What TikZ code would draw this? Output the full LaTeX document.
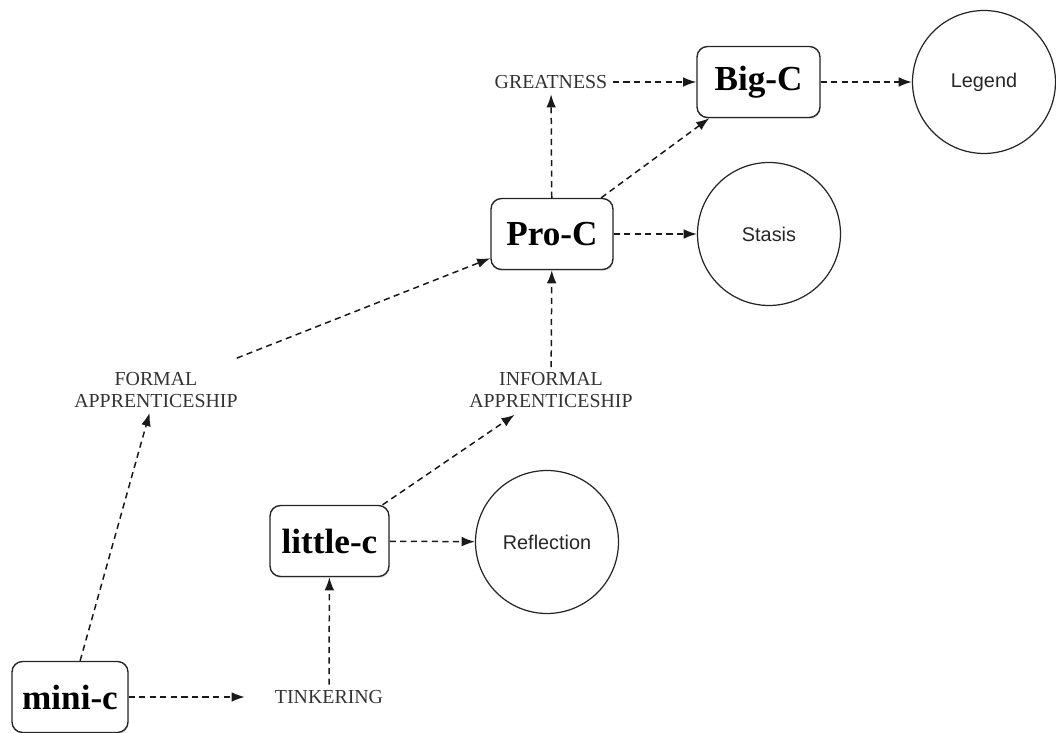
\documentclass[tikz,border=0pt]{standalone}
\usepackage{fontspec}
\setmainfont{Liberation Serif}
\newfontfamily\circfont{Liberation Sans}
\usetikzlibrary{arrows.meta,shadows}
\begin{document}
\begin{tikzpicture}[x=0.02cm,y=-0.02cm,
  level/.style={draw=black!85, line width=0.8pt, rounded corners=6pt, fill=white,
    minimum height=1.42cm, inner sep=0pt,
    font=\fontsize{20}{24}\selectfont\bfseries,
    drop shadow={opacity=0.2, shadow xshift=0.4pt, shadow yshift=-1pt}},
  route/.style={align=center, inner sep=3pt, text=black!80,
    font=\fontsize{11.3}{12}\selectfont},
  outcome/.style={circle, draw=black!85, line width=0.7pt, minimum size=2.86cm,
    inner sep=0pt, text=black!85, font=\circfont\fontsize{11.3}{13}\selectfont},
  flow/.style={draw=black!90, line width=0.85pt, dash pattern=on 3.5pt off 2.5pt,
    -{Latex[length=7.5pt,width=5.5pt]}}
]
\useasboundingbox (0,0) rectangle (1056,733);

% creativity levels
\node[level, minimum width=2.32cm] (mini)   at (70,697)    {mini-c};
\node[level, minimum width=2.38cm] (little) at (329.5,541) {little-c};
\node[level, minimum width=2.44cm] (pro)    at (552,234)   {Pro-C};
\node[level, minimum width=2.46cm] (big)    at (758.5,82)  {Big-C};

% end states
\node[outcome] (refl)   at (547,542) {Reflection};
\node[outcome] (stasis) at (769,234) {Stasis};
\node[outcome] (legend) at (984,82)  {Legend};

% transitions
\node[route] (tinker)   at (329,697) {TINKERING};
\node[route] (formal)   at (156,390) {FORMAL\\APPRENTICESHIP};
\node[route] (informal) at (551,390) {INFORMAL\\APPRENTICESHIP};
\node[route] (great)    at (551,82)  {GREATNESS};

% connectors
\draw[flow, shorten >=14pt] (mini) -- (tinker);
\draw[flow] (tinker) -- (little);
\draw[flow] (mini) -- (formal);
\draw[flow, shorten <=14pt] (formal) -- (pro);
\draw[flow, shorten >=2pt] (little) -- (informal);
\draw[flow] (informal) -- (pro);
\draw[flow] (little) -- (refl);
\draw[flow] (pro) -- (stasis);
\draw[flow] (pro) -- (great);
\draw[flow] (pro) -- (big);
\draw[flow] (great) -- (big);
\draw[flow] (big) -- (legend);
\end{tikzpicture}
\end{document}
